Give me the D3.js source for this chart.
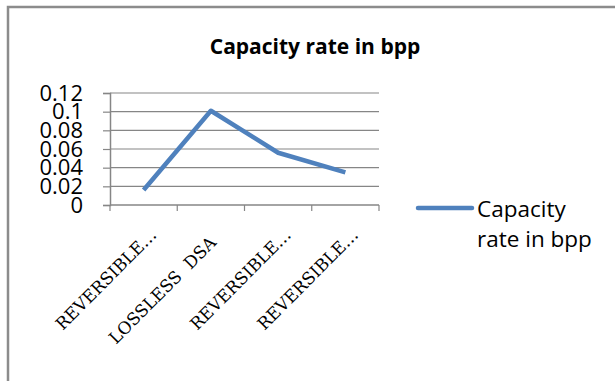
<!DOCTYPE html>
<html>
<head>
<meta charset="utf-8">
<script src="https://cdn.jsdelivr.net/npm/d3@7/dist/d3.min.js"></script>
<style>
  html, body { margin: 0; padding: 0; background: #fff; }
  svg { display: block; }
  text { white-space: pre; }
</style>
</head>
<body>
<svg id="chart" width="615" height="381"></svg>
<script>
// Capacity rate (bits per pixel) for each method
const categories = ["REVERSIBLE\u2026", "LOSSLESS  DSA  ", "REVERSIBLE\u2026", "REVERSIBLE\u2026"];
const capacity = [0.016, 0.101, 0.056, 0.035];
const yTicks = [0, 0.02, 0.04, 0.06, 0.08, 0.1, 0.12];
const seriesName = ["Capacity", "rate in bpp"];
const chartTitle = "Capacity rate in bpp";

const svg = d3.select("#chart");
const W = 615, H = 381;
const plot = { left: 110, right: 379, top: 93, bottom: 205 };
const gridColor = "#868686";
const lineColor = "#4F81BD";

// outer chart frame
svg.append("rect")
  .attr("x", 8).attr("y", 7)
  .attr("width", W + 20).attr("height", H + 20)
  .attr("fill", "#fff")
  .attr("stroke", "#8c8c8c")
  .attr("stroke-width", 2.5);

// title
svg.append("text")
  .attr("x", 315).attr("y", 54)
  .attr("text-anchor", "middle")
  .attr("font-family", "'Open Sans', sans-serif")
  .attr("font-weight", "bold")
  .attr("font-size", 21)
  .attr("fill", "#000")
  .text(chartTitle);

const x = d3.scaleBand()
  .domain(d3.range(categories.length))
  .range([plot.left, plot.right]);

const y = d3.scaleLinear()
  .domain([0, 0.12])
  .range([plot.bottom, plot.top]);

// horizontal gridlines
svg.append("g")
  .selectAll("line")
  .data(yTicks.filter(d => d > 0))
  .join("line")
  .attr("x1", plot.left).attr("x2", plot.right)
  .attr("y1", d => y(d)).attr("y2", d => y(d))
  .attr("stroke", gridColor).attr("stroke-width", 1.2);

// y axis
const yAxis = svg.append("g")
  .attr("transform", `translate(${plot.left},0)`)
  .call(d3.axisLeft(y).tickValues(yTicks).tickSize(7).tickPadding(20)
    .tickFormat(d => d3.format("")(+d.toFixed(2))));
yAxis.select(".domain").attr("stroke", gridColor).attr("stroke-width", 1.5);
yAxis.selectAll(".tick line").attr("stroke", gridColor).attr("stroke-width", 1.2);
yAxis.selectAll(".tick text")
  .attr("font-family", "'Open Sans', sans-serif")
  .attr("font-size", 22)
  .attr("fill", "#000");

// x axis
const tickPositions = d3.range(categories.length + 1).map(i => plot.left + i * x.step());
const xAxisG = svg.append("g");
xAxisG.append("line")
  .attr("x1", plot.left).attr("x2", plot.right)
  .attr("y1", plot.bottom).attr("y2", plot.bottom)
  .attr("stroke", gridColor).attr("stroke-width", 1.5);
xAxisG.selectAll("line.tk")
  .data(tickPositions)
  .join("line")
  .attr("class", "tk")
  .attr("x1", d => d).attr("x2", d => d)
  .attr("y1", plot.bottom).attr("y2", plot.bottom + 6)
  .attr("stroke", gridColor).attr("stroke-width", 1.2);

// rotated category labels
xAxisG.selectAll("text")
  .data(categories)
  .join("text")
  .attr("transform", (d, i) => `translate(${x(i) + x.bandwidth() / 2 + 14},${plot.bottom + 31}) rotate(-45)`)
  .attr("text-anchor", "end")
  .attr("font-family", "'DejaVu Serif', serif")
  .attr("font-size", 17)
  .attr("fill", "#000")
  .text(d => d);

// data line
const line = d3.line()
  .x((d, i) => x(i) + x.bandwidth() / 2)
  .y(d => y(d));
svg.append("path")
  .datum(capacity)
  .attr("d", line)
  .attr("fill", "none")
  .attr("stroke", lineColor)
  .attr("stroke-width", 4.5)
  .attr("stroke-linejoin", "round")
  .attr("stroke-linecap", "butt");

// legend
svg.append("line")
  .attr("x1", 418).attr("x2", 472)
  .attr("y1", 208).attr("y2", 208)
  .attr("stroke", lineColor).attr("stroke-width", 4.5)
  .attr("stroke-linecap", "round");
svg.append("text")
  .attr("font-family", "'Open Sans', sans-serif")
  .attr("font-size", 22.5)
  .attr("fill", "#000")
  .selectAll("tspan")
  .data(seriesName)
  .join("tspan")
  .attr("x", 477)
  .attr("y", (d, i) => 217 + i * 30)
  .text(d => d);
</script>
</body>
</html>
